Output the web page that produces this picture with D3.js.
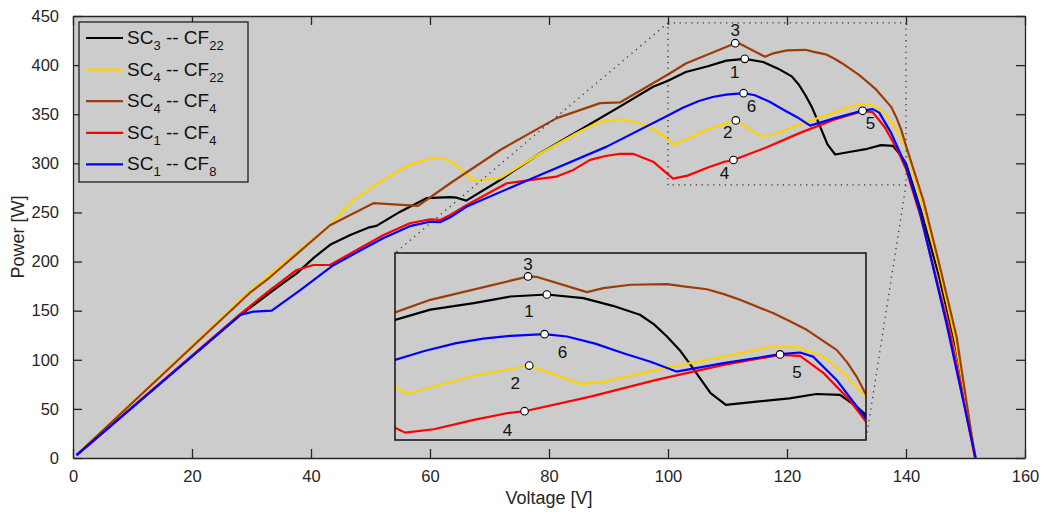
<!DOCTYPE html>
<html>
<head>
<meta charset="utf-8">
<script src="https://cdn.jsdelivr.net/npm/d3@7"></script>
<style>
  body { margin: 0; background: #fff; }
  svg { font-family: "Liberation Sans", Arial, sans-serif; }
</style>
</head>
<body>
<svg id="chart" width="1043" height="512"></svg>
<script>
// series: voltage [V] and power [W]
const blackV = [0.6, 28, 33.1, 35.3, 37.6, 40.5, 43.2, 46.6, 49.6, 51, 55, 59.4, 63.4, 64.5, 66.1, 71.8, 78.5, 85.2, 91.9, 97.5, 100, 103, 106.7, 109.8, 112.9, 116, 118.5, 120.8, 122, 123.1, 124.2, 125.1, 126.8, 128.1, 130.7, 133.5, 135.8, 137.8, 139.2, 140, 142.5, 145.5, 148.5, 151.7];
const blackP = [3, 145, 168, 178, 188, 204, 217, 227, 234.5, 236.3, 250.8, 264.5, 265.5, 265, 262, 283, 310.3, 334, 357.7, 378, 384, 393, 398.8, 404.6, 406.4, 403.2, 396.4, 388.5, 380, 369.3, 357, 344.3, 319.3, 309, 311.8, 314.8, 318.6, 317.8, 307.4, 300, 252, 186, 110, 0];

const yellowV = [0.6, 29.7, 43.2, 44.8, 46.6, 49.3, 52.2, 54.4, 56.6, 58.6, 60.6, 62.5, 64.5, 67.3, 71.8, 78.5, 84.1, 88.6, 92.5, 96.4, 100, 101, 106.4, 111.4, 115.7, 117.4, 122.2, 127.9, 132.1, 134.1, 136.4, 138.1, 140, 142.8, 145.6, 148.3, 151.7];
const yellowP = [3, 170, 237, 248, 259.4, 272, 283, 291.5, 298.4, 302.5, 305.2, 304.5, 298, 282.4, 284.8, 310, 329, 342.5, 344.9, 339, 325, 318.6, 334, 343.7, 327.5, 328.6, 339.9, 351.6, 360.5, 360, 351.6, 337, 316.3, 258, 192, 120, 0];

const brownV = [0.6, 29.7, 33.1, 43.2, 50.5, 58, 63.4, 71.8, 81.3, 88.6, 91.9, 100, 103, 111.3, 112, 116.3, 117.7, 120, 123.1, 124.5, 126.5, 128, 129.3, 132.1, 133.5, 135, 137.5, 138.4, 139.2, 140.1, 142.9, 145.7, 148.5, 151.6];
const brownP = [3, 168, 184, 237, 259.4, 256.6, 279.7, 313.6, 346, 361.3, 362, 390.5, 401.7, 422.3, 422, 408.5, 412, 415, 415.6, 413.5, 411, 406.5, 401.7, 390, 383, 375, 357.5, 346.5, 334, 316, 262.7, 194.8, 123.5, 0];

const redV = [0.6, 28, 33.1, 37.6, 40.4, 43.2, 48.2, 52.2, 56.6, 60, 61.7, 63.4, 66.2, 72.9, 78, 81.3, 84.1, 86.9, 89.5, 91.9, 94.2, 97.5, 100.85, 103.3, 106.7, 109.5, 111, 116.6, 122.2, 127.9, 132.7, 134.4, 136.4, 138.6, 140, 142.4, 144.8, 147.5, 151.6];
const redP = [3, 146, 171, 191.4, 196.5, 196.5, 213.5, 227, 239, 243, 242.4, 247.5, 257.6, 279.7, 284, 286.5, 293.3, 303.5, 307.5, 309.6, 309.6, 301.7, 284.5, 287.5, 295.7, 301.6, 303.4, 316.3, 331, 344.3, 353.1, 352.2, 337, 313.3, 294.2, 247, 190, 125, 0];

const blueV = [0.6, 28.1, 30.3, 33.4, 38.2, 43.7, 48.2, 52.2, 56.6, 60, 61.7, 63.4, 66.2, 78.5, 89.7, 100, 102.5, 105.2, 107.5, 109.8, 112.7, 114.6, 117, 119.4, 121.7, 123.9, 127.9, 132.7, 134.4, 135.5, 137.5, 140, 142.4, 146.8, 151.7];
const blueP = [3, 145.6, 149, 150, 171, 196, 211, 224, 236, 240.5, 240, 245, 256, 288.2, 317, 348.7, 356.5, 363.5, 367.5, 369.9, 371.4, 369.3, 363, 354.6, 347, 338.4, 345.8, 353.7, 355.2, 351.6, 331, 297, 249, 137, 0];

const seriesNames = ["SC|3| -- CF|22", "SC|4| -- CF|22", "SC|4| -- CF|4", "SC|1| -- CF|4", "SC|1| -- CF|8"];
const seriesColors = ["#000000", "#ffd200", "#9e3c08", "#ff0000", "#0000ff"];

// marked operating points
const markLabels = ["1", "2", "3", "4", "5", "6"];
const markV = [112.9, 111.4, 111.3, 111.0, 132.7, 112.7];
const markP = [406.4, 343.7, 422.3, 303.4, 353.5, 371.4];

const xTicks = [0, 20, 40, 60, 80, 100, 120, 140, 160];
const yTicks = [0, 50, 100, 150, 200, 250, 300, 350, 400, 450];

// zoom window shown in the inset
const zoomV = [100, 140];
const zoomP = [278, 443];

const series = [
  { V: blackV, P: blackP },
  { V: yellowV, P: yellowP },
  { V: brownV, P: brownP },
  { V: redV, P: redP },
  { V: blueV, P: blueP }
].map((s, i) => ({
  name: seriesNames[i],
  color: seriesColors[i],
  pts: s.V.map((v, j) => ({ v: v, p: s.P[j] }))
}));

const marks = markLabels.map((l, i) => ({ label: l, v: markV[i], p: markP[i] }));

const svg = d3.select("#chart"),
    pLeft = 73, pRight = 1025, pTop = 16, pBottom = 458;

const x = d3.scaleLinear().domain([0, 160]).range([pLeft, pRight]);
const y = d3.scaleLinear().domain([0, 450]).range([pBottom, pTop]);

const axisColor = "#262626";

svg.append("rect")
    .attr("x", pLeft).attr("y", pTop)
    .attr("width", pRight - pLeft).attr("height", pBottom - pTop)
    .attr("fill", "#cccccc");

// axes, ticks pointing inward like matlab
const gx = svg.append("g")
    .attr("transform", `translate(0,${pBottom})`)
    .call(d3.axisBottom(x).tickValues(xTicks).tickSizeInner(-9).tickSizeOuter(0).tickPadding(12));
const gy = svg.append("g")
    .attr("transform", `translate(${pLeft},0)`)
    .call(d3.axisLeft(y).tickValues(yTicks).tickSizeInner(-9).tickSizeOuter(0).tickPadding(14));
const gx2 = svg.append("g")
    .attr("transform", `translate(0,${pTop})`)
    .call(d3.axisTop(x).tickValues(xTicks).tickSizeInner(-9).tickSizeOuter(0).tickFormat(""));
const gy2 = svg.append("g")
    .attr("transform", `translate(${pRight},0)`)
    .call(d3.axisRight(y).tickValues(yTicks).tickSizeInner(-9).tickSizeOuter(0).tickFormat(""));

[gx, gy, gx2, gy2].forEach(g => {
  g.select(".domain").attr("stroke", axisColor).attr("stroke-width", 1.3);
  g.selectAll(".tick line").attr("stroke", axisColor).attr("stroke-width", 1.3);
  g.selectAll(".tick text").attr("fill", axisColor).attr("font-size", 16.5)
      .attr("font-family", "Liberation Sans, Arial, sans-serif");
});

svg.append("text")
    .attr("x", (pLeft + pRight) / 2).attr("y", 504)
    .attr("text-anchor", "middle")
    .attr("font-size", 18).attr("fill", axisColor)
    .text("Voltage [V]");

svg.append("text")
    .attr("transform", `translate(24,${(pTop + pBottom) / 2}) rotate(-90)`)
    .attr("text-anchor", "middle")
    .attr("font-size", 18).attr("fill", axisColor)
    .text("Power [W]");

svg.append("clipPath").attr("id", "mainClip")
  .append("rect")
    .attr("x", pLeft).attr("y", pTop)
    .attr("width", pRight - pLeft).attr("height", pBottom - pTop);

const line = d3.line()
    .x(d => x(d.v))
    .y(d => y(d.p));

const plot = svg.append("g").attr("clip-path", "url(#mainClip)");

plot.selectAll(".series")
  .data(series)
  .join("path")
    .attr("class", "series")
    .attr("d", d => line(d.pts))
    .attr("fill", "none")
    .attr("stroke", d => d.color)
    .attr("stroke-width", 2.2)
    .attr("stroke-linejoin", "round");

// dotted zoom window and connectors
const ix0 = 395, ix1 = 866, iy0 = 253, iy1 = 440;
const xi = d3.scaleLinear().domain(zoomV).range([ix0, ix1]);
const yi = d3.scaleLinear().domain(zoomP).range([iy1, iy0]);

const dotted = { stroke: "#3a3a3a", "stroke-width": 1.3, "stroke-dasharray": "1.3,4.5", fill: "none" };
const zr = plot.append("rect")
    .attr("x", x(zoomV[0])).attr("y", y(zoomP[1]))
    .attr("width", x(zoomV[1]) - x(zoomV[0]))
    .attr("height", y(zoomP[0]) - y(zoomP[1]));
const c1 = plot.append("line")
    .attr("x1", x(zoomV[0])).attr("y1", y(zoomP[1]))
    .attr("x2", ix0).attr("y2", iy0);
const c2 = plot.append("line")
    .attr("x1", x(zoomV[1])).attr("y1", y(zoomP[0]))
    .attr("x2", ix1).attr("y2", iy1);
[zr, c1, c2].forEach(s => Object.entries(dotted).forEach(([k, v]) => s.attr(k, v)));

function drawMarks(g, sx, sy, offs) {
  g.selectAll(".mark")
    .data(marks)
    .join("circle")
      .attr("class", "mark")
      .attr("cx", d => sx(d.v)).attr("cy", d => sy(d.p))
      .attr("r", 3.8)
      .attr("fill", "#fff").attr("stroke", "#000").attr("stroke-width", 1.1);
  g.selectAll(".mlabel")
    .data(marks)
    .join("text")
      .attr("class", "mlabel")
      .attr("x", (d, i) => sx(d.v) + offs[i][0])
      .attr("y", (d, i) => sy(d.p) + offs[i][1])
      .attr("text-anchor", "middle")
      .attr("dominant-baseline", "central")
      .attr("font-size", 17).attr("fill", "#111")
      .text(d => d.label);
}

drawMarks(plot, x, y, [[-10, 14], [-8, 12], [0, -13], [-9, 14], [8, 13], [8, 13]]);

// inset
svg.append("clipPath").attr("id", "insetClip")
  .append("rect")
    .attr("x", ix0).attr("y", iy0)
    .attr("width", ix1 - ix0).attr("height", iy1 - iy0);

svg.append("rect")
    .attr("x", ix0).attr("y", iy0)
    .attr("width", ix1 - ix0).attr("height", iy1 - iy0)
    .attr("fill", "#cccccc");

const inset = svg.append("g").attr("clip-path", "url(#insetClip)");
const lineI = d3.line()
    .x(d => xi(d.v))
    .y(d => yi(d.p));

inset.selectAll(".series")
  .data(series)
  .join("path")
    .attr("class", "series")
    .attr("d", d => lineI(d.pts))
    .attr("fill", "none")
    .attr("stroke", d => d.color)
    .attr("stroke-width", 2.2)
    .attr("stroke-linejoin", "round");

drawMarks(inset, xi, yi, [[-18, 17], [-14, 18], [0, -12], [-17, 19], [17, 18], [18, 18]]);

svg.append("rect")
    .attr("x", ix0).attr("y", iy0)
    .attr("width", ix1 - ix0).attr("height", iy1 - iy0)
    .attr("fill", "none").attr("stroke", "#111").attr("stroke-width", 1.5);

// legend
const lg = svg.append("g");
lg.append("rect")
    .attr("x", 79).attr("y", 22).attr("width", 169).attr("height", 160)
    .attr("fill", "#cccccc").attr("stroke", "#111").attr("stroke-width", 1.2);

const items = lg.selectAll(".item")
  .data(series)
  .join("g")
    .attr("class", "item")
    .attr("transform", (d, i) => `translate(0,${38 + i * 31.6})`);

items.append("line")
    .attr("x1", 86).attr("x2", 123)
    .attr("stroke", d => d.color).attr("stroke-width", 2.2);

items.each(function (d) {
  const parts = d.name.split("|");
  const t = d3.select(this).append("text")
      .attr("x", 127).attr("y", 6)
      .attr("font-size", 19).attr("fill", "#111");
  parts.forEach((p, k) => {
    if (p === "") return;
    const sub = k % 2 === 1;
    t.append("tspan")
        .attr("font-size", sub ? 13 : 19)
        .attr("dy", sub ? 6 : (k > 0 ? -6 : 0))
        .text(p);
  });
});
</script>
</body>
</html>
